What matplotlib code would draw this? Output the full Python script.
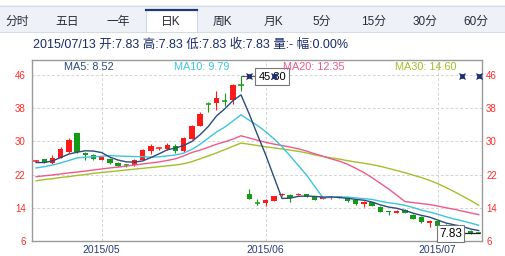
import matplotlib
matplotlib.use('Agg')
import matplotlib.pyplot as plt
from matplotlib.patches import Rectangle
import numpy as np

plt.rcParams['font.family'] = ['Liberation Sans', 'Noto Sans CJK SC', 'DejaVu Sans']

# ---------------- data ----------------
tabs = ['分时', '五日', '一年', '日K', '周K', '月K', '5分', '15分', '30分', '60分']
tab_centers = [17, 67, 118, 171, 222, 273, 322, 374, 425, 476]
active_tab = '日K'
info_text = '2015/07/13 开:7.83 高:7.83 低:7.83 收:7.83 量:- 幅:0.00%'

opens = [25.3, 25.7, 24.8, 26.0, 27.4, 32.1, 27.3, 26.8, 25.6, 25.8,
         24.9, 24.4, 24.3, 25.6, 27.7, 28.3, 28.1, 28.9, 27.8, 30.6,
         33.8, 39.0, 39.3, 39.7, 40.0, 43.6, 17.3, 15.3, 15.1, 15.7,
         17.0, 17.2, 17.2, 17.3, 16.7, 16.2, 16.3, 16.6, 16.3, 15.9,
         14.9, 15.4, 14.3, 13.2, 12.8, 13.5, 12.3, 11.9, 10.3, 10.9,
         9.5, 9.2, 9.4, 8.5, 7.83]
highs = [25.6, 25.8, 26.8, 28.7, 30.7, 32.1, 27.5, 26.9, 26.5, 25.9,
         25.0, 24.6, 25.8, 28.2, 29.4, 28.7, 29.7, 29.4, 31.0, 34.0,
         37.0, 39.6, 42.2, 41.7, 43.8, 45.8, 18.5, 16.2, 16.1, 16.9,
         17.5, 17.3, 17.5, 17.4, 16.8, 16.7, 16.9, 16.7, 16.4, 15.9,
         15.6, 15.5, 14.4, 13.3, 13.4, 13.6, 12.4, 12.0, 11.0, 10.9,
         10.0, 9.6, 9.5, 8.6, 7.83]
lows = [25.1, 24.9, 24.6, 25.9, 27.3, 27.3, 25.5, 25.6, 25.5, 24.6,
        23.8, 23.9, 24.1, 25.5, 27.0, 27.9, 28.0, 27.2, 27.5, 30.5,
        33.7, 37.0, 37.6, 38.6, 39.0, 42.2, 16.0, 14.6, 14.5, 15.6,
        16.9, 15.3, 17.1, 16.6, 15.8, 16.0, 16.2, 16.4, 15.5, 14.7,
        14.3, 14.4, 13.0, 12.3, 12.7, 12.7, 11.2, 10.4, 9.4, 9.6,
        9.1, 8.9, 8.5, 7.8, 7.83]
closes = [25.4, 24.9, 26.1, 28.1, 30.3, 27.5, 26.7, 25.7, 26.3, 24.9,
          24.1, 24.3, 25.5, 27.9, 28.9, 28.4, 29.1, 27.8, 30.8, 33.7,
          36.6, 38.9, 40.4, 39.6, 43.6, 43.5, 16.0, 15.2, 15.9, 16.8,
          17.3, 16.4, 17.4, 16.7, 15.9, 16.5, 16.7, 16.5, 15.6, 14.8,
          15.5, 14.5, 13.1, 13.0, 13.3, 12.8, 11.3, 10.5, 10.9, 9.7,
          9.3, 9.1, 8.55, 7.83, 7.83]

ma5 = [24.9, 24.9, 25.3, 26.1, 26.95, 27.38, 27.74, 27.66, 27.3, 26.2,
       25.5, 25.06, 25.0, 25.3, 26.1, 27.0, 27.96, 28.4, 29.0, 29.96,
       31.6, 33.56, 36.1, 37.8, 39.8, 41.2, 36.6, 31.6, 26.8, 21.5,
       16.24, 16.32, 16.76, 16.84, 16.74, 16.58, 16.64, 16.46, 16.3, 16.02,
       15.82, 15.38, 14.7, 14.18, 13.88, 13.34, 12.7, 12.18, 11.76, 11.04,
       10.34, 9.9, 9.51, 8.9, 8.52]
ma10 = [23.6, 23.9, 24.3, 24.8, 25.4, 26.0, 26.2, 26.3, 26.4, 26.59,
        26.46, 26.4, 26.34, 26.32, 26.18, 26.27, 26.51, 26.72, 27.17, 28.05,
        29.3, 30.76, 32.25, 33.42, 34.89, 36.4, 35.09, 33.83, 32.34, 30.65,
        28.72, 26.47, 24.17, 21.88, 19.11, 16.41, 16.48, 16.61, 16.58, 16.38,
        16.2, 16.01, 15.58, 15.21, 14.95, 14.6, 14.06, 13.44, 12.97, 12.46,
        11.84, 11.3, 10.85, 10.33, 9.79]
ma20 = [21.5, 21.7, 21.9, 22.15, 22.4, 22.6, 22.85, 23.1, 23.35, 23.6,
        23.8, 24.05, 24.3, 24.55, 24.8, 25.05, 25.4, 25.8, 26.5, 27.32,
        27.88, 28.58, 29.3, 29.87, 30.54, 31.34, 30.8, 30.28, 29.76, 29.35,
        29.01, 28.62, 28.21, 27.65, 27.0, 26.41, 25.79, 25.23, 24.47, 23.52,
        22.46, 21.24, 19.88, 18.55, 17.04, 15.5, 15.26, 15.02, 14.79, 14.42,
        14.01, 13.65, 13.2, 12.76, 12.35]
ma30 = [20.5, 20.8, 21.0, 21.3, 21.5, 21.8, 22.0, 22.3, 22.5, 22.7,
        22.9, 23.1, 23.3, 23.5, 23.7, 23.9, 24.1, 24.3, 24.6, 25.1,
        25.8, 26.5, 27.2, 28.0, 28.8, 29.6, 29.3, 29.0, 28.7, 28.43,
        28.16, 27.88, 27.59, 27.21, 26.73, 26.36, 26.03, 25.72, 25.36, 25.02,
        24.73, 24.4, 23.99, 23.49, 22.97, 22.45, 21.86, 21.28, 20.61, 19.81,
        18.9, 17.9, 16.84, 15.78, 14.6]

ma_names = ['MA5: 8.52', 'MA10: 9.79', 'MA20: 12.35', 'MA30: 14.60']
ma_colors = ['#2b4b7e', '#3ec4dc', '#ee5a8c', '#a3bf2a']
ma_label_x = [64, 174, 283, 395]

xtick_idx = [8, 28, 49]
xtick_labels = ['2015/05', '2015/06', '2015/07']
yticks = [6, 14, 22, 30, 38, 46]

max_idx = 25
max_label = '45.80'
last_label = '7.83'
event_idx = [26, 29, 52, 54]

# ---------------- figure ----------------
W, H = 506, 256
fig = plt.figure(figsize=(W / 100, H / 100), dpi=100)
fig.patch.set_facecolor('white')

L, R, T, B = 32, 482, 60, 241
ax = fig.add_axes([L / W, 1 - B / H, (R - L) / W, (B - T) / H])
ax.set_facecolor('white')
ax.set_xlim(-0.5, 54.4)
ax.set_ylim(6, 49.6)

x = np.arange(len(closes))
up_c, dn_c = '#ff1a1a', '#139b13'
for i in x:
    o, h, l, c = opens[i], highs[i], lows[i], closes[i]
    col = up_c if c > o else dn_c
    ax.vlines(i, l, h, color=col, lw=0.8, zorder=2)
    if abs(c - o) < 0.15:
        ax.hlines((o + c) / 2, i - 0.33, i + 0.33, color=col, lw=1.1, zorder=2)
    else:
        ax.bar(i, abs(c - o), bottom=min(o, c), width=0.66, color=col,
               linewidth=0, zorder=2)

for vals, col in zip([ma30, ma20, ma10, ma5], ma_colors[::-1]):
    ax.plot(x, vals, color=col, lw=1.0, zorder=3)

# grid
for yv in yticks[1:]:
    ax.axhline(yv, color='#d4d4d4', lw=0.7, ls=(0, (3, 2)), zorder=1)
for xi in xtick_idx:
    ax.axvline(xi, color='#d4d4d4', lw=0.7, ls=(0, (3, 2)), zorder=1)

for s in ax.spines.values():
    s.set_color('#9a9a9a')
    s.set_linewidth(1.0)

ax.set_yticks(yticks)
ax.set_yticklabels([str(v) for v in yticks])
ax.tick_params(axis='y', length=0, labelsize=7, labelcolor='#ff2a2a', pad=4.5)
ax.set_xticks(xtick_idx)
ax.set_xticklabels(xtick_labels)
ax.tick_params(axis='x', length=0, labelsize=7.5, labelcolor='#2c3a78', pad=3)

ax2 = ax.twinx()
ax2.set_ylim(ax.get_ylim())
ax2.set_yticks(yticks)
ax2.set_yticklabels([str(v) for v in yticks])
ax2.tick_params(axis='y', length=0, labelsize=7, labelcolor='#ff2a2a', pad=3)
for s in ax2.spines.values():
    s.set_visible(False)

# max / last price pointers
ax.hlines(highs[max_idx], max_idx, 27.0, color='#555555', lw=0.8, zorder=4)
ax.text(28.8, 45.62, max_label, ha='center', va='center', fontsize=8, color='black',
        zorder=5, bbox=dict(boxstyle='square,pad=0.3', fc='white', ec='#777777', lw=0.8))
ax.hlines(closes[-1], 52.1, 54.2, color='#222222', lw=0.9, zorder=4)
ax.text(50.55, 7.75, last_label, ha='center', va='center', fontsize=8.5, color='black',
        zorder=5, bbox=dict(boxstyle='square,pad=0.2', fc='white', ec='#777777', lw=0.8))

for ei in event_idx:
    ax.plot(ei, 45.85, marker='s', ms=2.6, mfc='#3a5ab0', mec='#1a2a70', mew=0.5, zorder=6)
    ax.plot(ei, 45.85, marker='x', ms=4, color='#1a2a70', mew=0.9, zorder=6)

# ---------------- overlay (pixel coords) ----------------
ov = fig.add_axes([0, 0, 1, 1], zorder=10)
ov.set_xlim(0, W)
ov.set_ylim(H, 0)
ov.axis('off')

ov.add_patch(Rectangle((0, 5), W, 27, fc='#eef2f8', ec='none'))
ov.plot([0, W], [5.5, 5.5], color='#d6dce6', lw=0.8)
ov.plot([0, W], [32, 32], color='#d6dce6', lw=0.8)
ov.add_patch(Rectangle((146, 10), 51, 22.5, fc='white', ec='none'))
ov.plot([146, 146], [10, 32], color='#cfd6e0', lw=0.8)
ov.plot([197, 197], [10, 32], color='#cfd6e0', lw=0.8)
ov.plot([146, 197], [10, 10], color='#1f3a7a', lw=1.6)

for t, cx in zip(tabs, tab_centers):
    ov.text(cx, 21.5, t, ha='center', va='center', fontsize=8.5, color='#2a2a3a')

ov.text(33, 45, info_text, ha='left', va='center', fontsize=9, color='#1a2b6b')

for name, col, lx in zip(ma_names, ma_colors, ma_label_x):
    ov.text(lx, 66.5, name, ha='left', va='center', fontsize=7.8, color=col)

fig.savefig('out.png', dpi=100, facecolor='white')
